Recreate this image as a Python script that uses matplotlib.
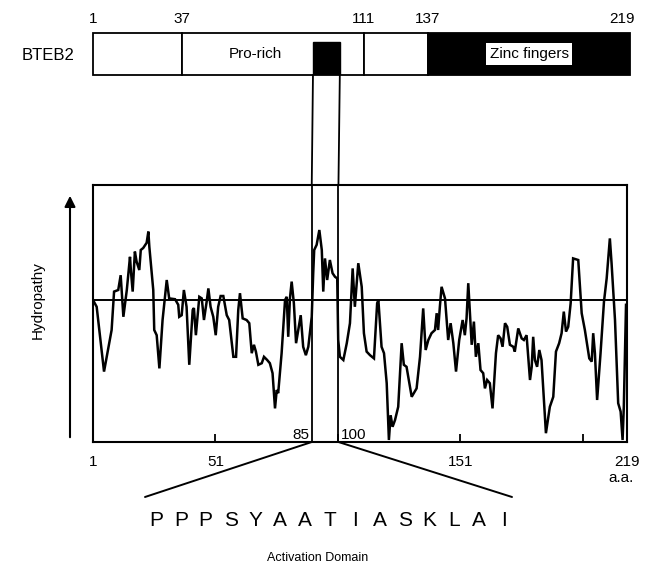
import matplotlib
matplotlib.use("Agg")
import matplotlib.pyplot as plt
from matplotlib.patches import Rectangle, ConnectionPatch

plt.rcParams['font.family'] = ['Liberation Sans', 'DejaVu Sans']

# ---- data ----
residue = [1, 2.5, 5.5, 8.6, 9.6, 11.3, 12.3, 13.4, 14.8, 16.1, 16.5, 17.2, 18.1, 18.8, 19.9,
           20.5, 21.5, 22.9, 23.6, 24.0, 25.6, 26.0, 27.0, 28.1, 29.4, 31.1, 32.1, 34.5, 35.8,
           36.2, 37.2, 38.1, 39.2, 40.3, 41.7, 42.2, 43.0, 44.4, 45.4, 46.3, 47.4, 48.1, 49.0,
           50.1, 51.1, 52.1, 53.1, 54.2, 55.6, 56.6, 58.3, 59.4, 60.3, 61.0, 62.1, 63.7, 64.8,
           65.8, 66.7, 67.5, 68.5, 69.9, 70.8, 72.1, 73.2, 74.3, 75.3, 76.0, 76.6, 78.0, 79.4,
           80.1, 80.7, 81.4, 82.1, 83.0, 83.9, 84.8, 85.8, 86.8, 87.9, 88.9, 90.3, 90.9, 91.3,
           92.3, 93.4, 94.4, 95.0, 95.7, 96.6, 97.7, 98.8, 99.8, 100.7, 101.1, 101.8, 103.2,
           104.6, 105.9, 107.0, 107.9, 109.3, 110.7, 111.6, 112.7, 114.1, 115.7, 117.0, 117.5,
           118.8, 119.8, 120.9, 121.8, 122.5, 123.3, 124.3, 125.6, 127.0, 127.9, 129.0, 131.1,
           133.1, 134.5, 135.8, 136.8, 137.9, 139.2, 140.6, 141.3, 141.9, 142.6, 143.3, 144.7,
           146.0, 147.0, 148.1, 149.2, 150.5, 151.9, 152.8, 153.5, 154.2, 154.9, 155.6, 156.5,
           157.3, 158.3, 159.2, 160.3, 161.0, 161.9, 163.0, 164.1, 165.5, 166.4, 167.4, 168.2,
           169.2, 170.1, 171.2, 172.6, 173.2, 174.6, 176.0, 176.9, 178.0, 179.4, 180.1, 180.7,
           181.4, 182.3, 183.2, 184.1, 185.9, 187.5, 188.9, 190.0, 191.3, 192.3, 193.2, 194.1,
           195.0, 196.0, 197.0, 199.1, 200.5, 201.8, 203.6, 204.6, 205.2, 205.9, 206.8, 208.2,
           209.6, 210.7, 212.0, 212.7, 214.1, 215.4, 216.4, 217.2, 217.7, 218.6]
hydropathy = [0.0, -0.17, -1.79, -0.75, 0.21, 0.25, 0.62, -0.42, 0.25, 1.08, 0.71, 0.21, 1.21,
              0.96, 0.75, 1.25, 1.30, 1.43, 1.71, 1.33, 0.25, -0.75, -0.88, -1.71, -0.50, 0.50,
              0.04, 0.02, -0.12, -0.42, -0.38, 0.25, -0.17, -1.62, -0.25, -0.20, -0.88, 0.08,
              0.04, -0.50, -0.04, 0.29, -0.17, -0.42, -0.88, -0.17, 0.10, 0.10, -0.38, -0.50,
              -1.42, -1.42, -0.25, 0.17, -0.46, -0.50, -0.58, -1.33, -1.12, -1.29, -1.62, -1.58,
              -1.42, -1.50, -1.58, -1.83, -2.71, -2.25, -2.33, -1.33, 0.0, 0.08, -0.92, 0.04,
              0.46, -0.08, -1.08, -0.75, -0.38, -1.17, -1.38, -1.17, -0.42, 0.67, 1.25, 1.38,
              1.75, 1.25, 0.21, 1.04, 0.50, 1.00, 0.67, 0.58, 0.54, -1.00, -1.42, -1.50, -1.08,
              -0.58, 0.79, -0.17, 0.92, 0.33, -0.83, -1.29, -1.38, -1.46, -0.08, 0.0, -1.17,
              -1.33, -2.08, -3.50, -2.88, -3.17, -3.00, -2.67, -1.08, -1.62, -1.67, -2.42, -2.21,
              -1.42, -0.21, -1.25, -1.00, -0.83, -0.75, -0.33, -0.75, -0.17, 0.33, 0.04, -1.00,
              -0.58, -1.08, -1.79, -1.00, -0.50, -0.88, -0.46, 0.42, -0.33, -1.12, -0.54, -1.42,
              -1.08, -1.75, -1.83, -2.21, -2.00, -2.08, -2.71, -1.33, -0.88, -0.96, -1.17, -0.58,
              -0.67, -1.12, -1.17, -1.29, -0.71, -0.96, -1.00, -0.88, -2.00, -1.67, -0.92, -1.50,
              -1.67, -1.25, -1.50, -3.33, -2.67, -2.42, -1.29, -1.08, -0.83, -0.29, -0.79, -0.67,
              -0.08, 1.04, 1.00, -0.33, -0.75, -1.46, -1.54, -0.83, -1.33, -2.50, -1.33, -0.04,
              0.54, 1.54, 0.92, -0.50, -2.58, -2.79, -3.50, -2.67, -0.12]

protein_length = 219
domain_bounds = [1, 37, 111, 137, 219]
domain_bound_labels = ['1', '37', '111', '137', '219']
domain_names = ['', 'Pro-rich', '', 'Zinc fingers']
activation_lines = [90.3, 101.2]
activation_labels = ['85', '100']
x_ticks = [1, 51, 101, 151, 201, 219]
x_tick_labels = ['1', '51', '', '151', '', '219']
sequence = "PPPSYAATIASKLAI"
y_range = (-3.55, 2.875)

W, H = 650, 568
fig = plt.figure(figsize=(W / 100, H / 100), dpi=100)


def frac(x0, y0, x1, y1):
    return [x0 / W, 1 - y1 / H, (x1 - x0) / W, (y1 - y0) / H]


# ---- main hydropathy plot ----
ax = fig.add_axes(frac(93, 185, 627, 442))
ax.plot(residue, hydropathy, color='black', lw=1.8, solid_joinstyle='miter')
ax.axhline(0, color='black', lw=1.4)
ax.set_xlim(1, protein_length)
ax.set_ylim(*y_range)
ax.set_yticks([])
ax.set_xticks(x_ticks)
ax.set_xticklabels(x_tick_labels, fontsize=11)
ax.tick_params(axis='x', direction='in', length=6, width=1.3, pad=9)
for sp in ax.spines.values():
    sp.set_linewidth(1.5)
for xv in activation_lines:
    ax.axvline(xv, color='black', lw=1.3)
ax.annotate(activation_labels[0], xy=(activation_lines[0], y_range[0]), xytext=(-2, 0),
            textcoords='offset points', ha='right', va='bottom', fontsize=11)
ax.annotate(activation_labels[1], xy=(activation_lines[1], y_range[0]), xytext=(2, 0),
            textcoords='offset points', ha='left', va='bottom', fontsize=11)
ax.annotate('a.a.', xy=(protein_length, y_range[0]), xytext=(-4, -21),
            textcoords='offset points', ha='center', va='top', fontsize=11)

# ---- domain bar ----
bax = fig.add_axes(frac(93, 33, 630, 75))
bax.set_xlim(1, protein_length)
bax.set_ylim(0, 1)
bax.axis('off')
for i in range(len(domain_bounds) - 1):
    a, b = domain_bounds[i], domain_bounds[i + 1]
    fc = 'black' if i == len(domain_bounds) - 2 else 'white'
    bax.add_patch(Rectangle((a, 0), b - a, 1, facecolor=fc, edgecolor='black', lw=1.3,
                            clip_on=False))
bax.add_patch(Rectangle((activation_lines[0], 0), activation_lines[1] - activation_lines[0],
                        0.78, facecolor='black', edgecolor='black', lw=1.0))
for b, lab in zip(domain_bounds, domain_bound_labels):
    off = -6 if b == protein_length else 0
    bax.annotate(lab, xy=(b, 1), xytext=(off, 5), textcoords='offset points',
                 ha='center', va='bottom', fontsize=11)
bax.text(67, 0.5, domain_names[1], ha='center', va='center', fontsize=11)
bax.text((domain_bounds[3] + domain_bounds[4]) / 2, 0.5, domain_names[3], ha='center',
         va='center', fontsize=11, color='black',
         bbox=dict(facecolor='white', edgecolor='none', pad=2.5))
fig.text(48 / W, 1 - 55 / H, 'BTEB2', ha='center', va='center', fontsize=12)

# connectors bar -> plot
for xv in activation_lines:
    fig.add_artist(ConnectionPatch(xyA=(xv, 0), coordsA=bax.transData,
                                   xyB=(xv, y_range[1]), coordsB=ax.transData,
                                   color='black', lw=1.3))

# connectors plot -> sequence
fig.add_artist(ConnectionPatch(xyA=(activation_lines[0], y_range[0]), coordsA=ax.transData,
                               xyB=(145 / W, 1 - 497 / H), coordsB='figure fraction',
                               color='black', lw=1.4))
fig.add_artist(ConnectionPatch(xyA=(activation_lines[1], y_range[0]), coordsA=ax.transData,
                               xyB=(512 / W, 1 - 497 / H), coordsB='figure fraction',
                               color='black', lw=1.4))

# sequence letters
n = len(sequence)
x0, x1 = 156, 504
for i, ch in enumerate(sequence):
    fig.text((x0 + i * (x1 - x0) / (n - 1)) / W, 1 - 521 / H, ch, ha='center', va='center',
             fontsize=15)
fig.text(318 / W, 1 - 558 / H, 'Activation Domain', ha='center', va='center', fontsize=9)

# hydropathy arrow
fig.text(38 / W, 1 - 300 / H, 'Hydropathy', rotation=90, ha='center', va='center', fontsize=11)
ax.annotate('', xy=(70 / W, 1 - 193 / H), xytext=(70 / W, 1 - 440 / H),
            xycoords='figure fraction', textcoords='figure fraction',
            arrowprops=dict(arrowstyle='-|>', color='black', lw=1.5, mutation_scale=16))

fig.savefig('out.png', dpi=100, facecolor='white')
